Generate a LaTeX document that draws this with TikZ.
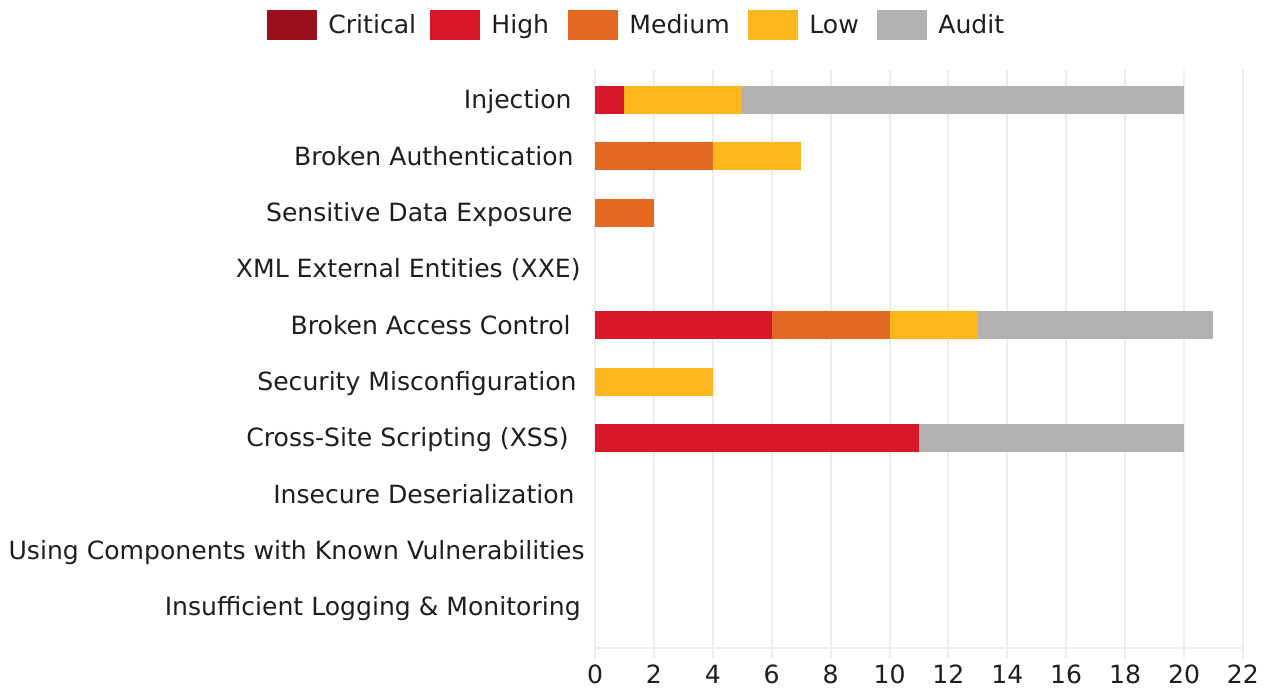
\documentclass[tikz,border=0pt]{standalone}
\usepackage{fontspec}
\setmainfont{DejaVu Sans}
\usetikzlibrary{positioning}
\definecolor{critcol}{HTML}{9B0E1C}
\definecolor{highcol}{HTML}{D7172A}
\definecolor{medcol}{HTML}{E36922}
\definecolor{lowcol}{HTML}{FDB71D}
\definecolor{auditcol}{HTML}{B2B1AF}
\definecolor{gridc}{HTML}{EDEDED}
\definecolor{textc}{HTML}{1E1E1E}

\begin{document}
\begin{tikzpicture}[x=0.5pt,y=-0.5pt,font=\fontsize{12.55}{15}\selectfont,
  lab/.style={anchor=base east,inner sep=0pt,text=textc},
  key/.style={anchor=base west,inner sep=0pt,text=textc},
  tick/.style={inner sep=0pt,text=textc},
  grid/.style={draw=gridc,line width=1pt},
]
\useasboundingbox (0,0) rectangle (1270,689);

% legend
\foreach \c/\t/\x [count=\i] in {critcol/Critical/267,highcol/High/430,
    medcol/Medium/568,lowcol/Low/748,auditcol/Audit/877}{
  \fill[\c] (\x,10) rectangle +(50,30);
  \node[key] (key\i) at (\x+61,34) {\t};
}

% value axis: 1 unit = 29.45px, zero at x=595
\begin{scope}[shift={(595,0)},x=14.725pt]
  \foreach \v in {0,2,...,22}{
    \draw[grid] (\v,70) -- (\v,658);
    \node[tick] (tick\v) at (\v,674) {\v};
  }
  \draw[grid] (0,648) -- (22,648);

  % stacked bars: row / from / to / colour
  \foreach \r/\a/\b/\c in {0/0/1/highcol,0/1/5/lowcol,0/5/20/auditcol,
      1/0/4/medcol,1/4/7/lowcol,
      2/0/2/medcol,
      4/0/6/highcol,4/6/10/medcol,4/10/13/lowcol,4/13/21/auditcol,
      5/0/4/lowcol,
      6/0/11/highcol,6/11/20/auditcol}{
    \fill[\c] (\a,{100+56.33*\r-14}) rectangle (\b,{100+56.33*\r+14});
  }
\end{scope}

% category labels
\foreach \t/\e [count=\i from 0] in {Injection/572,Broken Authentication/574,
    Sensitive Data Exposure/573,XML External Entities (XXE)/581,
    Broken Access Control/571,Security Misconfiguration/577,
    Cross-Site Scripting (XSS)/569,Insecure Deserialization/575,
    Using Components with Known Vulnerabilities/585,
    Insufficient Logging \& Monitoring/581}{
  \node[lab] (cat\i) at (\e,{100+56.33*\i+9}) {\t};
}
\end{tikzpicture}
\end{document}
